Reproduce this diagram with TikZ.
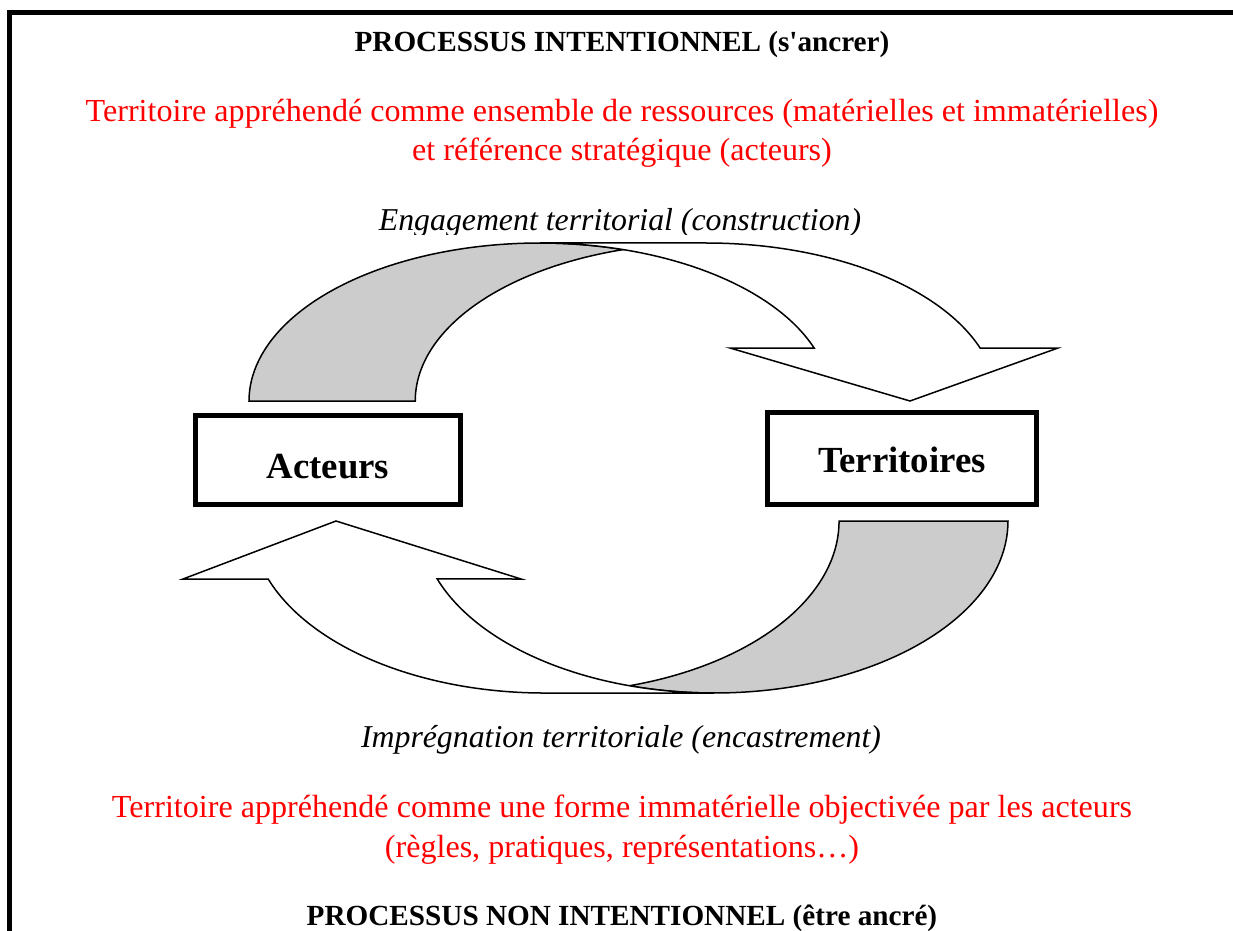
\documentclass[tikz,border=0pt]{standalone}
\usepackage[usenames,dvipsnames]{xcolor}
\usepackage{fontspec}
\setmainfont{Liberation Serif}
\usepackage{tikz}

\begin{document}
\begin{tikzpicture}[x=0.5pt,y=0.5pt,
    titre/.style={anchor=base,inner sep=0pt,font=\fontsize{14.6}{17}\selectfont\bfseries},
    rouge/.style={anchor=base,inner sep=0pt,text=red,font=\fontsize{16.05}{19}\selectfont},
    legende/.style={anchor=base,inner sep=0pt,font=\fontsize{15.9}{19}\selectfont\itshape},
    boite/.style={draw,line width=2.5pt,inner sep=0pt,text depth=0pt,font=\fontsize{18.4}{22}\selectfont\bfseries},
    fleche/.style={draw,fill=white,line width=0.75pt},
    queue/.style={draw,fill=black!20,line width=0.75pt}]
   \useasboundingbox (0,0) rectangle (1233,-931);
   \clip (0,0) rectangle (1233,-931);
   \draw[line width=2.5pt] (9.5,-12.5) rectangle (1235.5,-960);

   \draw (622,-52) node[titre] (intention) {PROCESSUS INTENTIONNEL (s\textquotesingle ancrer)};
   \draw (622,-122) node[rouge] (ressources) {Territoire appréhendé comme ensemble de ressources (matérielles et immatérielles)};
   \draw (622,-161) node[rouge] (reference) {et référence stratégique (acteurs)};
   \begin{scope}
     \clip (300,-190) rectangle (940,-235);
     \draw (620,-231) node[legende] (engagement) {Engagement territorial (construction)};
   \end{scope}

   % fleche du haut : acteurs -> territoires
   \path[queue] (249,-401) arc[start angle=180,end angle=73.4,x radius=291,y radius=158]
       arc[start angle=106.6,end angle=180,x radius=291,y radius=158] -- cycle;
   \path[fleche] (540,-243) arc[start angle=90,end angle=19.6,x radius=291,y radius=158]
       -- (730,-348) -- (910,-401) -- (1058,-348) -- (980.1,-348)
       arc[start angle=19.6,end angle=90,x radius=291,y radius=158] -- cycle;

   % fleche du bas : territoires -> acteurs
   \path[queue] (1008,-521) arc[start angle=0,end angle=-106.7,x radius=294,y radius=172]
       arc[start angle=-73.3,end angle=0,x radius=294,y radius=172] -- cycle;
   \path[fleche] (714,-693) arc[start angle=-90,end angle=-160.3,x radius=294,y radius=172]
       -- (521,-579) -- (336,-521) -- (183,-579) -- (268.2,-579)
       arc[start angle=-160.3,end angle=-90,x radius=294,y radius=172] -- cycle;

   \draw (328,-460) node[boite,minimum width=132.5pt,minimum height=44.5pt,text height=18pt] (acteurs) {Acteurs};
   \draw (902,-458.5) node[boite,minimum width=134.5pt,minimum height=46pt,text height=13.7pt] (territoires) {Territoires};

   \draw (621,-747) node[legende] (impregnation) {Imprégnation territoriale (encastrement)};
   \draw (622,-817) node[rouge] (forme) {Territoire appréhendé comme une forme immatérielle objectivée par les acteurs};
   \draw (622,-857) node[rouge] (regles) {(règles, pratiques, représentations…)};
   \draw (622,-925) node[titre] (nonintention) {PROCESSUS NON INTENTIONNEL (être ancré)};
\end{tikzpicture}
\end{document}
